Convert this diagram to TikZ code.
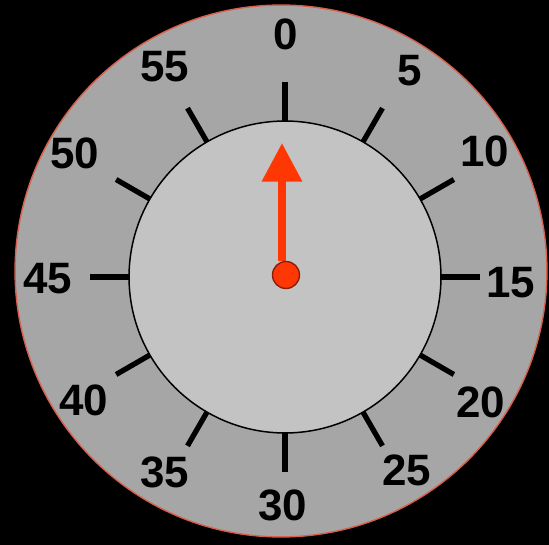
\documentclass[tikz,border=0pt]{standalone}
\usepackage{fontspec}
\setmainfont{Liberation Sans}
\usetikzlibrary{arrows.meta, calc}
\definecolor{dialgray}{RGB}{166, 166, 166}
\definecolor{facegray}{RGB}{195, 195, 195}
\definecolor{handred}{RGB}{255, 55, 5}
\definecolor{rimred}{RGB}{215, 95, 75}
\definecolor{hubred}{RGB}{140, 30, 10}

\begin{document}
\begin{tikzpicture}[
        x=0.02cm, y=0.02cm,
        rim/.style={circle, draw=rimred, line width=0.8pt, fill=dialgray, inner sep=0pt, minimum size=10.64cm},
        face/.style={circle, draw=black, line width=0.85pt, fill=facegray, inner sep=0pt, minimum size=6.24cm},
        hub/.style={circle, draw=hubred, line width=0.8pt, fill=handred, inner sep=0pt, minimum size=0.54cm},
        tick/.style={line width=3pt, draw=black},
        minute/.style={font=\fontsize{25}{26}\selectfont\bfseries, text=black, inner sep=0pt},
        hand/.style={-{Triangle[width=22pt, length=22pt]}, line width=4.5pt, draw=handred}
    ]

        % Background
        \fill[black] (-285,-268) rectangle (264,277);
        \useasboundingbox (-285,-268) rectangle (264,277);

        % Dial
        \node[rim] (rim) at (-4,6) {};
        \node[face] (face) at (0,0) {};

        % Ticks
        \foreach \m [evaluate=\m as \a using 90-6*\m] in {0,5,...,55}
            \draw[tick] ($(face.center)+(\a:156)$) -- ($(face.center)+(\a:195)$);

        % Numbers
        \foreach \m/\x/\y in {0/1/243, 5/125/206, 10/200/126, 15/226/-6, 20/196/-125, 25/122/-193,
                              30/-2/-228, 35/-120/-195, 40/-201/-123, 45/-237/-2, 50/-210/124, 55/-120/210}
            \node[minute] (m\m) at (\x,\y) {\m};

        % Hand
        \coordinate (tail) at (-3,16);
        \coordinate (tip) at (-3,134);
        \draw[hand] (tail) -- (tip);
        \node[hub] (hub) at (1,2) {};
    \end{tikzpicture}
\end{document}
